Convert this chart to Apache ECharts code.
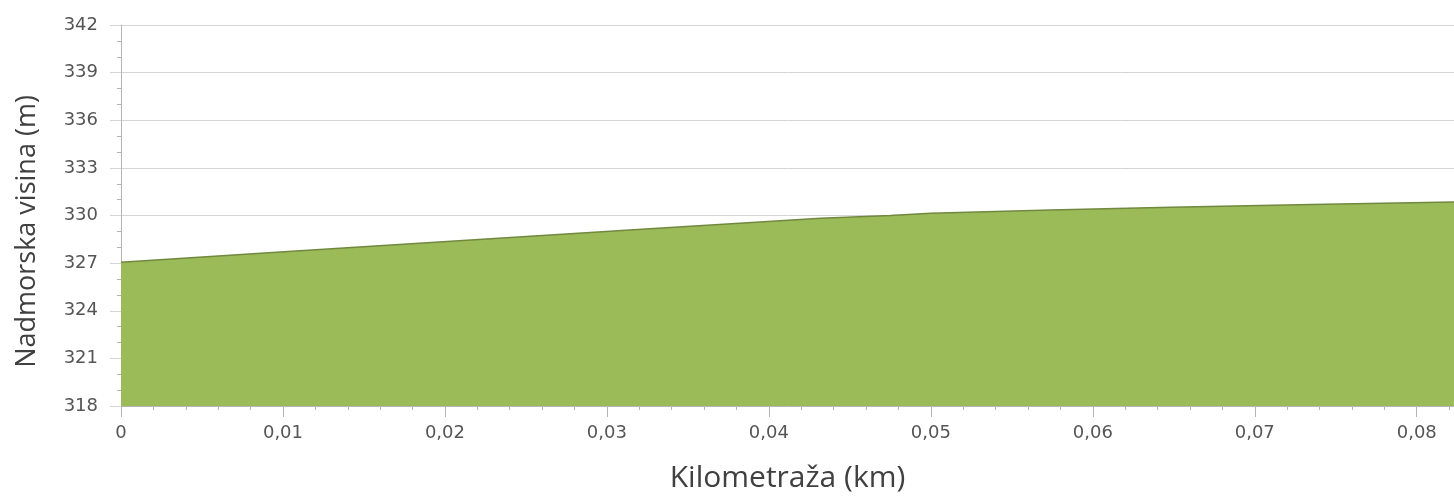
<!DOCTYPE html>
<html>
<head>
<meta charset="utf-8">
<script src="https://cdn.jsdelivr.net/npm/echarts@6/dist/echarts.min.js"></script>
<style>
	html, body { margin: 0; padding: 0; background: #ffffff; }
	#chart { width: 1454px; height: 502px; }
</style>
</head>
<body>
<div id="chart"></div>
<script>
// distance along the route (km) and elevation (m)
var distanceKm = [0, 0.0108, 0.0216, 0.0324, 0.0432, 0.0475, 0.05, 0.0574, 0.0648, 0.0735, 0.0823];
var elevationM = [327.05, 327.76, 328.46, 329.15, 329.82, 330.0, 330.14, 330.35, 330.52, 330.69, 330.85];

var xTitle = 'Kilometraža (km)';
var yTitle = 'Nadmorska visina (m)';

var chartColors = {
	area: '#9bbb59',
	areaLine: '#71893f',
	axisLabels: '#555555',
	axisTitles: '#404040',
	axisLines: '#b4b4b4',
	gridLines: '#d4d4d4'
};

var seriesData = [];
for (var i = 0; i < distanceKm.length; i++) {
	seriesData.push([distanceKm[i], elevationM[i]]);
}

var echart = echarts.init(document.getElementById('chart'));

var eChartOptions = {
	animation: false,
	grid: {
		left: 121,
		right: 0,
		top: 25,
		bottom: 96
	},
	xAxis: {
		type: 'value',
		min: 0,
		max: 0.0823,
		interval: 0.01,
		name: xTitle,
		nameLocation: 'middle',
		nameGap: 57,
		nameTextStyle: {
			fontFamily: 'Open Sans',
			fontSize: 30,
			color: chartColors.axisTitles
		},
		axisLine: { show: true, lineStyle: { color: chartColors.axisLines } },
		axisTick: { show: true, length: 11, lineStyle: { color: chartColors.axisLines } },
		minorTick: { show: true, splitNumber: 5, length: 4, lineStyle: { color: chartColors.axisLines } },
		splitLine: { show: false },
		axisLabel: {
			showMaxLabel: false,
			margin: 18,
			fontFamily: 'DejaVu Sans',
			fontSize: 18,
			color: chartColors.axisLabels,
			formatter: function (v) {
				if (v === 0) return '0';
				return (+v.toFixed(2)).toString().replace('.', ',');
			}
		}
	},
	yAxis: {
		type: 'value',
		min: 318,
		max: 342,
		interval: 3,
		name: yTitle,
		nameLocation: 'middle',
		nameGap: 80,
		nameTextStyle: {
			fontFamily: 'Open Sans',
			fontSize: 27,
			color: chartColors.axisTitles,
			padding: [0, 32, 0, 0]
		},
		axisLine: { show: true, lineStyle: { color: chartColors.axisLines } },
		axisTick: { show: true, length: 11, lineStyle: { color: chartColors.gridLines } },
		minorTick: { show: true, splitNumber: 3, length: 4, lineStyle: { color: chartColors.axisLines } },
		splitLine: { show: true, lineStyle: { color: chartColors.gridLines } },
		axisLabel: {
			margin: 23,
			fontFamily: 'DejaVu Sans',
			fontSize: 18,
			color: chartColors.axisLabels
		}
	},
	series: [
		{
			type: 'line',
			data: seriesData,
			showSymbol: false,
			lineStyle: { width: 1.5, color: chartColors.areaLine },
			areaStyle: { color: chartColors.area, opacity: 1 },
			z: 3
		}
	]
};

echart.setOption(eChartOptions);
</script>
</body>
</html>
